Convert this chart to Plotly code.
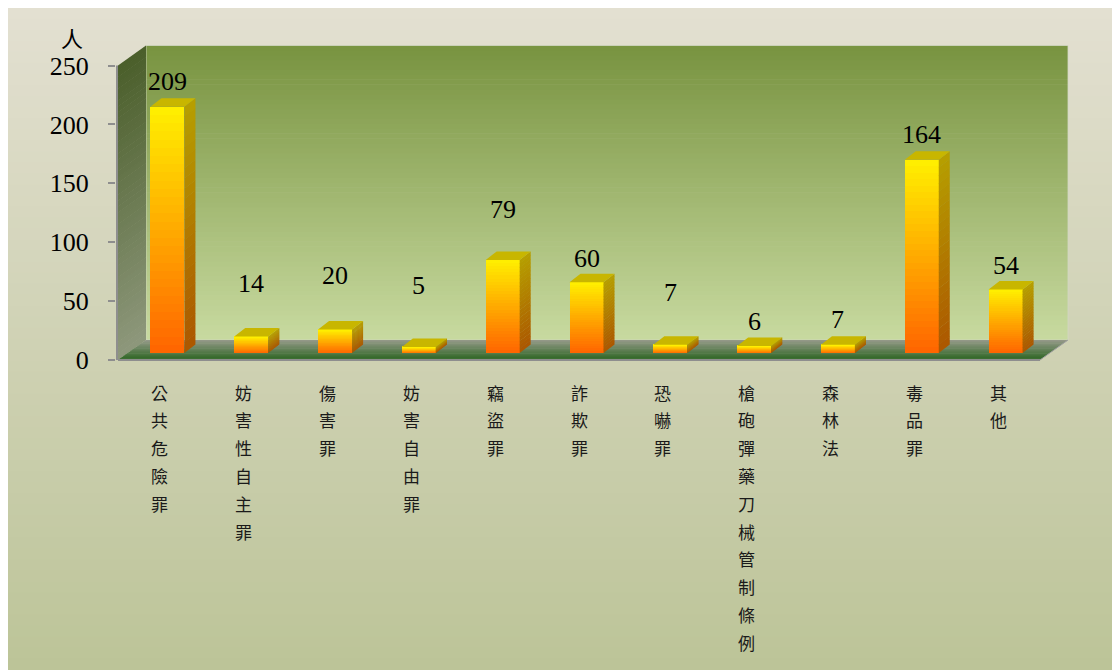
import plotly.graph_objects as go

# ---------------- data ----------------
categories = ["公共危險罪", "妨害性自主罪", "傷害罪", "妨害自由罪", "竊盜罪", "詐欺罪",
              "恐嚇罪", "槍砲彈藥刀械管制條例", "森林法", "毒品罪", "其他"]
values = [209, 14, 20, 5, 79, 60, 7, 6, 7, 164, 54]
y_ticks = [0, 50, 100, 150, 200, 250]
y_unit = "人"

# ---------------- layout constants (figure pixels) ----------------
W, H = 1112, 662
ML, MR, MT, MB = 108, 20, 20, 300
FRONT_LEFT_PX = 110          # front-plane left edge of category band
PX_PER_CAT = 922 / 11
PX_PER_VAL = 294.5 / 250
Y0_PX = 352
plot_w = W - ML - MR
plot_h = H - MT - MB
x_range = [-0.5 - (FRONT_LEFT_PX - ML) / PX_PER_CAT,
           -0.5 - (FRONT_LEFT_PX - ML) / PX_PER_CAT + plot_w / PX_PER_CAT]
y_range = [-(H - MB - Y0_PX) / PX_PER_VAL, (Y0_PX - MT) / PX_PER_VAL]


def ux(px):
    return px / PX_PER_CAT


def uy(px):
    return px / PX_PER_VAL


def xp(px):
    return (px - ML) / plot_w


def yp(py):
    return (H - MB - py) / plot_h


def lerp(c0, c1, t):
    return "rgb(%d,%d,%d)" % tuple(round(a + (b - a) * t) for a, b in zip(c0, c1))


n = len(categories)
vmax = y_ticks[-1]
WDX, WDY = ux(28), uy(20)          # wall depth
BFX, BFY = ux(7.5), uy(7)          # bar front-face offset
BW = ux(34)                         # bar width
BDX, BDY = ux(11), uy(8.5)          # bar depth
label_gap = [25, 53, 54, 62, 50, 24, 52, 24, 25, 25, 24]

shapes = []

# background gradient (paper)
BG_TOP, BG_BOT = (227, 224, 209), (188, 196, 152)
NB = 60
top_px, bot_px = 0, H
for k in range(NB):
    a = top_px + (bot_px - top_px) * k / NB - 0.3
    b = top_px + (bot_px - top_px) * (k + 1) / NB + 0.6
    shapes.append(dict(type="rect", xref="paper", yref="paper", layer="below",
                       x0=xp(-2), x1=xp(W + 2), y0=yp(b), y1=yp(a),
                       fillcolor=lerp(BG_TOP, BG_BOT, (k + 0.5) / NB), line_width=0))

xl, xr = -0.5, n - 0.5

# back wall
WALL_TOP, WALL_BOT = (120, 147, 64), (200, 218, 160)
NW = 60
for k in range(NW):
    a = vmax * k / NW
    b = vmax * (k + 1) / NW + 0.5
    shapes.append(dict(type="rect", xref="x", yref="y", layer="below",
                       x0=xl + WDX, x1=xr + WDX, y0=a + WDY, y1=min(b, vmax) + WDY,
                       fillcolor=lerp(WALL_BOT, WALL_TOP, (k + 0.5) / NW), line_width=0))
shapes.append(dict(type="rect", xref="x", yref="y", layer="below",
                   x0=xl + WDX, x1=xr + WDX, y0=WDY, y1=vmax + WDY,
                   fillcolor="rgba(0,0,0,0)", line=dict(color="rgba(210,215,195,0.8)", width=1)))

# side wall
SIDE_TOP, SIDE_BOT = (74, 94, 42), (142, 152, 124)
NS = 50
for k in range(NS):
    a = vmax * k / NS
    b = min(vmax, vmax * (k + 1) / NS + 0.5)
    path = "M %f %f L %f %f L %f %f L %f %f Z" % (
        xl, a, xl, b, xl + WDX, b + WDY, xl + WDX, a + WDY)
    shapes.append(dict(type="path", xref="x", yref="y", layer="below", path=path,
                       fillcolor=lerp(SIDE_BOT, SIDE_TOP, (k + 0.5) / NS), line_width=0))

# floor
FL_FRONT, FL_BACK = (42, 100, 32), (150, 154, 138)
NF = 16
for k in range(NF):
    t0 = k / NF
    t1 = min(1, (k + 1) / NF + 0.02)
    path = "M %f %f L %f %f L %f %f L %f %f Z" % (
        xl + t0 * WDX, t0 * WDY, xr + t0 * WDX, t0 * WDY,
        xr + t1 * WDX, t1 * WDY, xl + t1 * WDX, t1 * WDY)
    shapes.append(dict(type="path", xref="x", yref="y", layer="below", path=path,
                       fillcolor=lerp(FL_FRONT, FL_BACK, (k + 0.5) / NF), line_width=0))

# front floor edge and y axis line
shapes.append(dict(type="line", xref="x", yref="y", layer="below",
                   x0=xl, x1=xr, y0=0, y1=0, line=dict(color="#8e8e8e", width=2)))
shapes.append(dict(type="line", xref="x", yref="y", layer="below",
                   x0=xr, x1=xr + WDX, y0=0, y1=WDY, line=dict(color="#a0a0a0", width=1)))
shapes.append(dict(type="line", xref="x", yref="y", layer="below",
                   x0=xl - ux(1), x1=xl - ux(1), y0=0, y1=vmax,
                   line=dict(color="#8e8e8e", width=2)))

# bar side and top faces
BS_TOP, BS_BOT = (182, 160, 0), (172, 86, 0)
BTOP = (200, 182, 0)
NBS = 24
for i, v in enumerate(values):
    x0 = i + BFX - BW / 2
    x1 = i + BFX + BW / 2
    base = BFY
    top = BFY + v
    for k in range(NBS):
        a = base + v * k / NBS
        b = min(top, base + v * (k + 1) / NBS + 0.4)
        path = "M %f %f L %f %f L %f %f L %f %f Z" % (
            x1, a, x1, b, x1 + BDX, b + BDY, x1 + BDX, a + BDY)
        shapes.append(dict(type="path", xref="x", yref="y", layer="above", path=path,
                           fillcolor=lerp(BS_BOT, BS_TOP, (k + 0.5) / NBS), line_width=0))
    path = "M %f %f L %f %f L %f %f L %f %f Z" % (
        x0, top, x1, top, x1 + BDX, top + BDY, x0 + BDX, top + BDY)
    shapes.append(dict(type="path", xref="x", yref="y", layer="above", path=path,
                       fillcolor=lerp(BTOP, BTOP, 0), line_width=0))

fig = go.Figure()

# bar front faces as stacked gradient segments
FR_TOP, FR_BOT = (255, 240, 0), (255, 100, 0)
NSEG = 30
xs = [i + BFX for i in range(n)]
for k in range(NSEG):
    bases = [BFY + v * k / NSEG for v in values]
    heights = [v / NSEG + (0.35 if k < NSEG - 1 else 0) for v in values]
    fig.add_trace(go.Bar(x=xs, y=heights, base=bases, width=BW,
                         marker=dict(color=lerp(FR_BOT, FR_TOP, (k + 0.5) / NSEG),
                                     line_width=0),
                         showlegend=False, hoverinfo="skip"))

annotations = []
for i, v in enumerate(values):
    annotations.append(dict(x=i + BFX, y=BFY + v, xref="x", yref="y", text=str(v),
                            showarrow=False, yshift=label_gap[i], yanchor="middle",
                            font=dict(family="Liberation Serif", size=26, color="black")))
for i, cat in enumerate(categories):
    for j, ch in enumerate(cat):
        annotations.append(dict(x=i, y=0, xref="x", yref="y", text=ch, showarrow=False,
                                yshift=-(32 + 27.8 * j), yanchor="middle",
                                font=dict(family="Noto Sans CJK TC", size=17, color="#1a1a1a")))
annotations.append(dict(x=xp(64), y=yp(29), xref="paper", yref="paper", text=y_unit,
                        showarrow=False, xanchor="center", yanchor="middle",
                        font=dict(family="Noto Sans CJK TC", size=22, color="black")))

fig.update_layout(
    width=W, height=H,
    margin=dict(l=ML, r=MR, t=MT, b=MB, pad=0),
    paper_bgcolor="rgb(208,210,180)", plot_bgcolor="rgba(0,0,0,0)",
    barmode="overlay", bargap=0,
    shapes=shapes, annotations=annotations,
    hovermode=False, showlegend=False,
    xaxis=dict(range=x_range, visible=False, fixedrange=True),
    yaxis=dict(range=y_range, tickvals=y_ticks, ticktext=[str(t) for t in y_ticks],
               showgrid=False, zeroline=False, showline=False,
               ticks="outside", ticklen=7, tickwidth=2, tickcolor="#8e8e8e",
               ticklabelstandoff=14,
               tickfont=dict(family="Liberation Serif", size=26, color="black"),
               fixedrange=True),
)

fig.write_html("out.html")
